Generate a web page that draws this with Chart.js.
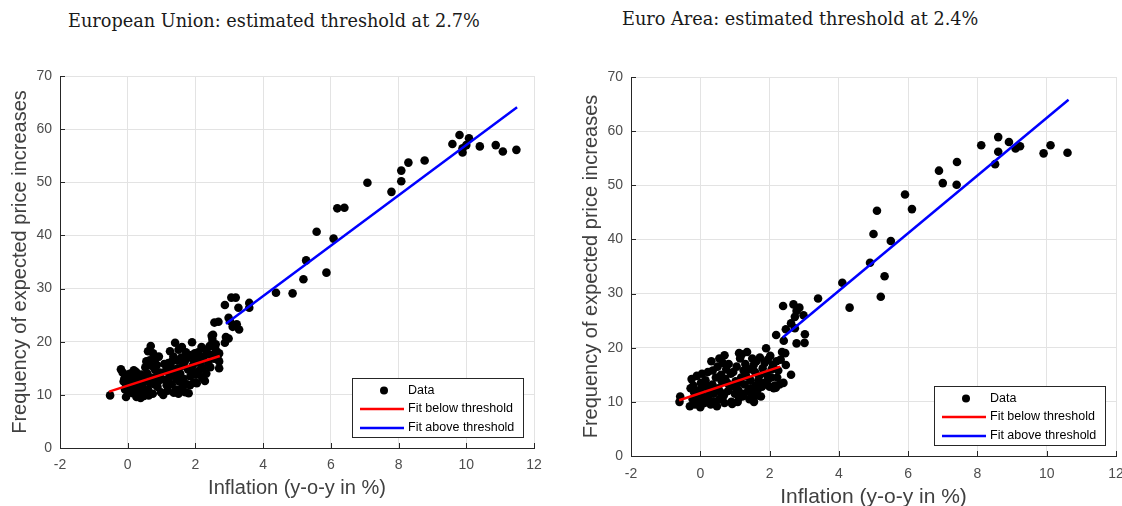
<!DOCTYPE html>
<html>
<head>
<meta charset="utf-8">
<script src="https://cdn.jsdelivr.net/npm/chart.js@4/dist/chart.umd.min.js"></script>
<style>
  html, body { margin: 0; padding: 0; background: #fff; overflow: hidden; width: 1122px; height: 506px; position: relative; }
  .title { position: absolute; font-family: "DejaVu Serif", serif; font-size: 17.7px; color: #1a1a1a; white-space: nowrap; }
  canvas { position: absolute; top: 0; }
</style>
</head>
<body>
<div class="title" style="left:68px; top:11px;">European Union: estimated threshold at 2.7%</div>
<div class="title" style="left:622px; top:9px;">Euro Area: estimated threshold at 2.4%</div>
<canvas id="chartEU" width="561" height="530" style="left:0"></canvas>
<canvas id="chartEA" width="580" height="530" style="left:561px"></canvas>
<script>
// axis ticks
const xTicks = [-2, 0, 2, 4, 6, 8, 10, 12];
const yTicks = [0, 10, 20, 30, 40, 50, 60, 70];

const legendLabels = ['Data', 'Fit below threshold', 'Fit above threshold'];

// European Union: scatter (inflation, frequency)
const euData = [
  [-0.52,9.9],[-0.2,14.8],[-0.15,14.2],[-0.12,12.5],[-0.1,13.0],[-0.08,11.0],[-0.05,9.6],[-0.05,12.0],
  [0.0,13.8],[0.02,10.8],[0.05,12.6],[0.08,14.0],[0.1,13.5],[0.12,11.5],
  [0.15,10.3],[0.2,12.2],[0.22,13.0],[0.25,14.3],[0.28,11.2],[0.3,10.0],[0.35,12.8],[0.38,9.4],
  [0.4,13.8],[0.42,11.8],[0.45,10.5],[0.48,9.8],[0.5,12.5],[0.52,15.2],[0.55,16.3],[0.58,14.0],
  [0.6,11.0],[0.6,18.2],[0.62,9.9],[0.65,16.5],[0.68,19.2],[0.7,15.5],[0.72,13.2],[0.75,17.8],
  [0.78,12.0],[0.8,14.8],[0.82,16.8],[0.85,13.5],[0.88,11.5],[0.9,12.5],[0.95,14.2],[0.98,10.5],
  [1.05,10.0],[1.1,12.8],[1.12,14.5],[1.15,11.8],[1.2,16.0],[1.22,13.2],[1.25,18.2],[1.28,15.2],
  [1.3,12.0],[1.35,17.2],[1.38,13.8],[1.4,19.8],[1.42,11.0],[1.45,16.5],[1.48,15.0],[1.5,10.2],
  [1.5,18.5],[1.52,12.5],[1.55,14.0],[1.58,17.0],[1.6,19.0],[1.62,11.5],[1.65,13.0],[1.68,16.2],
  [1.7,10.5],[1.72,18.0],[1.75,12.0],[1.78,14.8],[1.8,10.3],[1.82,17.5],[1.85,13.5],[1.9,19.9],
  [1.92,15.5],[1.95,12.3],[1.98,17.8],
  [2.02,13.8],[2.05,16.5],[2.08,18.0],[2.1,14.5],[2.15,15.8],[2.18,19.0],[2.2,13.2],[2.25,17.2],
  [2.3,18.5],[2.32,14.0],[2.38,16.0],[2.42,19.2],[2.45,17.5],[2.5,20.5],[2.52,21.3],[2.58,18.8],
  [2.6,19.5],[2.65,17.0],[2.7,17.8],[2.7,16.3],[2.7,15.0],
  [0.18,14.6],[0.32,11.6],[0.44,13.2],[0.56,10.8],[0.66,12.2],[0.74,10.2],[0.86,15.6],[0.92,17.2],
  [1.0,13.0],[1.08,15.8],[1.18,10.8],[1.24,14.0],[1.32,16.4],[1.44,13.0],[1.56,11.0],[1.62,15.5],
  [1.74,16.8],[1.84,11.8],[1.88,14.6],[1.96,16.4],[2.04,12.2],[2.12,17.2],[2.22,15.0],[2.28,12.6],
  [2.36,17.8],[2.44,15.2],[2.55,16.8],[2.62,18.2],[1.36,10.4],[0.26,9.6],
  [2.48,21.1],[2.5,19.8],[2.56,23.6],[2.68,23.75],[2.87,26.9],[3.06,28.3],[3.19,28.3],[3.27,26.4],
  [2.98,24.5],[3.22,23.3],[3.29,22.3],[2.9,20.9],[2.87,19.8],[2.98,20.6],[3.1,22.8],[3.02,23.9],
  [3.59,27.3],[3.59,26.4],[4.38,29.2],[4.87,29.1],[5.19,31.75],[5.27,35.3],[5.87,33.0],[5.58,40.7],
  [6.08,39.4],[6.19,45.1],[6.4,45.2],[7.08,49.9],[7.79,48.2],[8.08,50.2],[8.08,52.2],[8.29,53.7],
  [8.77,54.1],[9.59,57.2],[9.8,58.9],[10.08,58.3],[9.89,56.4],[9.89,55.6],[10.0,57.0],[10.4,56.75],
  [10.87,57.0],[11.08,55.8],[11.48,56.1]
];
const euFitBelow = [[-0.55,10.6],[2.72,17.3]];
const euFitAbove = [[2.9,23.4],[11.5,64.1]];

// Euro Area
const eaData = [
  [-0.6,10.0],[-0.58,11.0],[-0.3,9.2],[-0.28,12.5],[-0.25,14.2],[-0.22,10.5],[-0.2,13.0],[-0.15,9.5],
  [-0.12,11.5],[-0.1,14.8],[-0.05,10.2],[-0.02,12.2],[0.0,9.0],[0.02,13.5],[0.05,15.2],[0.08,11.0],
  [0.1,12.8],[0.12,9.8],[0.15,14.0],[0.2,10.8],[0.22,15.5],[0.25,12.0],[0.3,9.5],[0.32,17.5],
  [0.35,13.2],[0.38,11.5],[0.4,10.0],[0.45,14.5],[0.48,9.2],[0.5,16.5],[0.52,12.5],[0.55,10.5],
  [0.6,15.0],[0.62,13.8],[0.65,17.2],[0.68,11.2],[0.7,18.6],[0.72,14.2],[0.75,16.0],[0.8,12.0],
  [0.82,17.0],[0.85,13.0],[0.9,10.0],[0.92,9.6],[0.95,15.5],[1.0,11.5],[1.02,13.8],[1.05,16.5],
  [1.1,12.2],[1.12,10.8],[1.15,18.0],[1.18,14.5],[1.2,18.8],[1.22,11.0],[1.25,15.8],[1.28,13.2],
  [1.3,17.0],[1.35,19.2],[1.38,12.0],[1.4,16.0],[1.42,10.5],[1.45,14.0],[1.5,18.0],[1.52,11.8],
  [1.55,10.0],[1.58,15.5],[1.6,13.0],[1.62,17.5],[1.65,12.2],[1.7,14.8],[1.72,18.2],[1.75,11.0],
  [1.8,16.2],[1.85,13.5],[1.9,19.9],[1.92,15.0],[1.95,17.8],[2.0,12.8],[2.02,18.5],[2.05,14.5],
  [2.1,16.8],[2.15,13.0],[2.18,12.6],[2.2,17.5],[2.25,15.8],[2.29,13.2],[2.36,19.2],[2.45,19.0],
  [2.47,16.8],[2.62,15.0],
  [-0.18,11.8],[0.06,10.4],[0.18,13.0],[0.28,10.2],[0.42,12.2],[0.58,11.8],[0.7,9.8],[0.78,13.5],
  [0.88,15.2],[0.98,12.8],[1.08,10.0],[1.16,13.6],[1.26,11.5],[1.32,14.8],[1.46,12.5],[1.54,16.8],
  [1.64,11.2],[1.68,14.0],[1.78,12.8],[1.86,17.2],[1.96,14.2],[2.06,16.0],[2.12,12.5],[2.22,14.5],
  [2.32,17.8],[2.4,13.5],[0.36,15.8],[0.55,18.0],[1.12,19.0],[1.48,10.8],
  [2.19,22.35],[2.39,27.7],[2.41,21.3],[2.47,23.4],[2.62,24.5],[2.69,28.0],[2.73,25.7],[2.73,23.6],
  [2.78,26.8],[2.78,20.8],[2.86,27.4],[2.98,26.0],[3.02,22.5],[3.01,20.9],[3.4,29.1],[4.1,32.0],
  [4.31,27.4],[4.9,35.7],[5.0,41.0],[5.1,45.3],[5.21,29.4],[5.32,33.2],[5.5,39.7],[5.91,48.3],
  [6.11,45.6],[6.89,52.7],[7.0,50.4],[7.4,50.1],[7.41,54.3],[8.11,57.4],[8.51,53.9],[8.6,58.9],
  [8.6,56.2],[8.91,58.0],[9.1,56.8],[9.23,57.2],[9.91,55.9],[10.11,57.4],[10.6,56.0]
];
const eaFitBelow = [[-0.61,10.3],[2.31,16.5]];
const eaFitAbove = [[2.38,21.9],[10.63,65.8]];

const toXY = arr => arr.map(p => ({ x: p[0], y: p[1] }));

// MATLAB style ticks pointing into the plot
const inwardTicks = {
  id: 'inwardTicks',
  afterDraw(chart) {
    const { ctx, chartArea, scales } = chart;
    ctx.save();
    ctx.strokeStyle = '#262626';
    ctx.lineWidth = 1;
    ctx.beginPath();
    xTicks.forEach(v => {
      const px = Math.round(scales.x.getPixelForValue(v)) + 0.5;
      ctx.moveTo(px, chartArea.bottom);
      ctx.lineTo(px, chartArea.bottom - 5);
    });
    yTicks.forEach(v => {
      const py = Math.round(scales.y.getPixelForValue(v)) + 0.5;
      ctx.moveTo(chartArea.left, py);
      ctx.lineTo(chartArea.left + 5, py);
    });
    ctx.stroke();
    ctx.restore();
  }
};

// boxed legend inside the lower right corner
const legendBox = {
  id: 'legendBox',
  afterDraw(chart, args, opts) {
    const { ctx, chartArea } = chart;
    const left = Math.round(chartArea.right - opts.inset - opts.width);
    const top = Math.round(chartArea.bottom - opts.inset - opts.height);
    ctx.save();
    ctx.fillStyle = '#fff';
    ctx.fillRect(left, top, opts.width, opts.height);
    ctx.strokeStyle = '#262626';
    ctx.lineWidth = 1;
    ctx.strokeRect(left + 0.5, top + 0.5, opts.width, opts.height);
    ctx.font = opts.font;
    ctx.textBaseline = 'middle';
    chart.data.datasets.forEach((ds, i) => {
      const y = top + opts.rows[i];
      if (ds.showLine) {
        ctx.strokeStyle = ds.borderColor;
        ctx.lineWidth = 2.5;
        ctx.beginPath();
        ctx.moveTo(left + opts.lineFrom, y);
        ctx.lineTo(left + opts.lineTo, y);
        ctx.stroke();
      } else {
        ctx.fillStyle = ds.backgroundColor;
        ctx.beginPath();
        ctx.arc(left + opts.marker, y, 4, 0, Math.PI * 2);
        ctx.fill();
      }
      ctx.fillStyle = '#000';
      ctx.fillText(ds.label, left + opts.text, y);
    });
    ctx.restore();
  }
};

function makeChart(id, data, below, above, lay) {
  const ctx = document.getElementById(id).getContext('2d');
  return new Chart(ctx, {
    type: 'scatter',
    data: {
      datasets: [
        {
          label: legendLabels[0],
          data: toXY(data),
          backgroundColor: '#000',
          borderWidth: 0,
          pointRadius: 4.3,
          order: 2
        },
        {
          label: legendLabels[1],
          data: toXY(below),
          showLine: true,
          borderColor: '#ff0000',
          borderWidth: 2.5,
          pointRadius: 0,
          order: 0
        },
        {
          label: legendLabels[2],
          data: toXY(above),
          showLine: true,
          borderColor: '#0000ff',
          borderWidth: 2.5,
          pointRadius: 0,
          order: 1
        }
      ]
    },
    options: {
      responsive: false,
      animation: false,
      devicePixelRatio: 1,
      layout: { padding: { top: lay.top, right: lay.right, left: 0, bottom: 0 } },
      plugins: {
        legend: { display: false },
        tooltip: { enabled: false },
        legendBox: {
          inset: 11, width: 171, height: 59,
          marker: 32, lineFrom: 8, lineTo: 52, text: 56,
          rows: [12.5, 31, 50],
          font: '12.5px "Liberation Sans", Arial, sans-serif'
        }
      },
      scales: {
        x: {
          type: 'linear',
          min: -2,
          max: 12,
          afterBuildTicks: s => { s.ticks = xTicks.map(v => ({ value: v })); },
          afterFit: s => { s.height = lay.xHeight; },
          grid: { color: '#e3e3e3', drawTicks: false },
          border: { color: '#262626', width: 1 },
          ticks: {
            padding: lay.xTickPad,
            color: '#4d4d4d',
            font: { family: '"Liberation Sans", Arial, sans-serif', size: 14 }
          },
          title: {
            display: true,
            text: 'Inflation (y-o-y in %)',
            color: '#404040',
            padding: { top: 0, bottom: lay.xTitlePad },
            font: { family: '"Liberation Sans", Arial, sans-serif', size: lay.xTitleSize }
          }
        },
        y: {
          type: 'linear',
          min: 0,
          max: 70,
          afterBuildTicks: s => { s.ticks = yTicks.map(v => ({ value: v })); },
          afterFit: s => { s.width = lay.yWidth; },
          grid: { color: '#e3e3e3', drawTicks: false },
          border: { color: '#262626', width: 1 },
          ticks: {
            padding: 8,
            color: '#4d4d4d',
            font: { family: '"Liberation Sans", Arial, sans-serif', size: 14 }
          },
          title: {
            display: true,
            text: 'Frequency of expected price increases',
            color: '#404040',
            padding: { top: lay.yTitlePad, bottom: 0 },
            font: { family: '"Liberation Sans", Arial, sans-serif', size: 20 }
          }
        }
      }
    },
    plugins: [inwardTicks, legendBox]
  });
}

makeChart('chartEU', euData, euFitBelow, euFitAbove, {
  top: 76, right: 27, yWidth: 60, xHeight: 82,
  xTickPad: 9, xTitlePad: 30, xTitleSize: 20, yTitlePad: 8
});

makeChart('chartEA', eaData, eaFitBelow, eaFitAbove, {
  top: 77, right: 25, yWidth: 70, xHeight: 74,
  xTickPad: 10, xTitlePad: 20, xTitleSize: 21, yTitlePad: 18
});
</script>
</body>
</html>
